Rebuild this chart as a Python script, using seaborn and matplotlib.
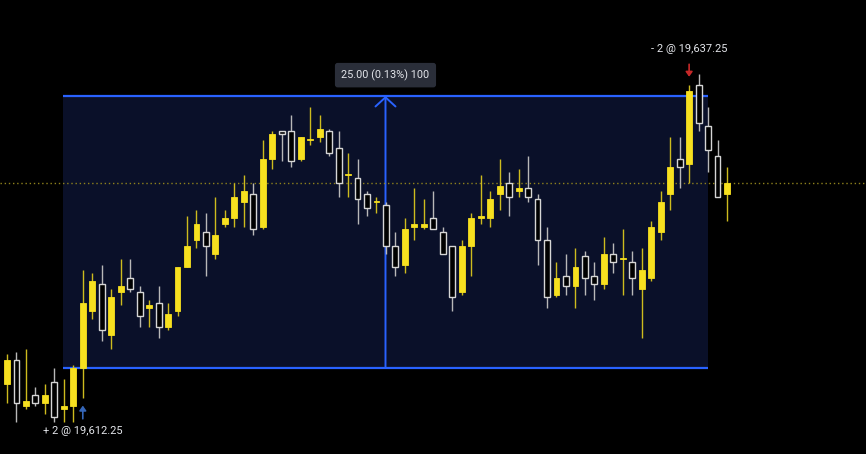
import matplotlib
matplotlib.use("Agg")
import matplotlib.pyplot as plt
from matplotlib.patches import Rectangle
import numpy as np
import seaborn as sns

# OHLC values (one list per field)
opens = [19610.75, 19613.0, 19608.75, 19609.75, 19609.0, 19611.0, 19608.5, 19608.75, 19612.25, 19617.5,
         19620.0, 19615.25, 19619.25, 19620.5, 19619.25, 19617.75, 19618.25, 19616.0, 19617.5, 19621.5,
         19624.0, 19624.75, 19622.75, 19625.5, 19626.0, 19627.5, 19628.25, 19625.25, 19631.5, 19634.0,
         19634.0, 19631.5, 19633.25, 19633.5, 19634.0, 19632.5, 19630.0, 19629.75, 19628.25, 19627.5,
         19627.25, 19623.5, 19621.75, 19625.25, 19625.25, 19626.0, 19624.75, 19623.5, 19619.25, 19623.5,
         19626.0, 19626.0, 19628.25, 19629.25, 19628.5, 19628.75, 19627.75, 19624.0, 19619.0, 19620.75,
         19619.75, 19622.5, 19620.75, 19620.0, 19622.75, 19622.25, 19622.0, 19619.5, 19620.5, 19624.75,
         19628.25, 19631.5, 19631.0, 19638.25, 19634.5, 19631.75, 19628.25]
highs = [19613.5, 19613.75, 19614.0, 19610.5, 19610.75, 19612.25, 19611.25, 19612.5, 19621.25, 19621.0,
         19621.75, 19619.5, 19622.25, 19622.25, 19619.75, 19618.5, 19619.75, 19618.25, 19621.5, 19626.25,
         19626.75, 19626.5, 19628.0, 19626.75, 19629.25, 19630.0, 19629.25, 19633.25, 19634.0, 19634.0,
         19635.5, 19633.5, 19636.25, 19635.5, 19634.25, 19634.0, 19632.0, 19631.5, 19628.5, 19628.0,
         19627.5, 19624.75, 19626.0, 19628.75, 19627.75, 19628.5, 19625.25, 19623.5, 19624.0, 19626.5,
         19630.0, 19628.5, 19631.5, 19630.25, 19630.5, 19631.75, 19628.25, 19625.25, 19622.0, 19622.75,
         19623.25, 19623.0, 19622.0, 19624.25, 19623.75, 19625.0, 19623.0, 19623.25, 19625.75, 19628.5,
         19633.5, 19633.5, 19638.25, 19639.25, 19636.25, 19633.25, 19630.75]
lows = [19609.0, 19607.25, 19608.5, 19608.75, 19608.0, 19607.25, 19607.25, 19607.25, 19609.5, 19616.75,
        19614.75, 19614.0, 19618.0, 19619.25, 19616.0, 19616.0, 19615.0, 19615.75, 19617.0, 19621.5,
        19623.25, 19620.75, 19622.25, 19625.25, 19625.25, 19625.25, 19624.5, 19625.0, 19630.5, 19631.25,
        19630.75, 19631.25, 19632.75, 19633.0, 19631.75, 19628.0, 19628.0, 19625.5, 19626.25, 19626.5,
        19622.75, 19620.75, 19621.0, 19624.0, 19625.0, 19625.0, 19622.75, 19617.5, 19619.0, 19620.75,
        19625.5, 19625.25, 19626.75, 19626.25, 19628.0, 19627.5, 19621.75, 19617.75, 19618.75, 19619.0,
        19617.75, 19619.0, 19618.5, 19619.5, 19621.0, 19619.0, 19619.0, 19615.0, 19620.25, 19624.0,
        19626.75, 19628.75, 19629.25, 19634.0, 19630.25, 19628.0, 19625.75]
closes = [19613.0, 19609.0, 19609.25, 19609.0, 19609.75, 19607.75, 19608.75, 19612.25, 19618.25, 19620.25,
          19615.75, 19618.75, 19619.75, 19619.5, 19617.0, 19618.0, 19616.0, 19617.25, 19621.5, 19623.5,
          19625.5, 19623.5, 19624.5, 19626.0, 19628.0, 19628.5, 19625.0, 19631.5, 19633.75, 19633.75,
          19631.25, 19633.5, 19633.25, 19634.25, 19632.0, 19629.25, 19630.0, 19627.75, 19627.0, 19627.5,
          19623.5, 19621.5, 19625.0, 19625.5, 19625.5, 19625.0, 19622.75, 19618.75, 19623.5, 19626.0,
          19626.25, 19627.75, 19629.0, 19628.0, 19628.75, 19628.0, 19624.0, 19618.75, 19620.5, 19619.75,
          19621.5, 19620.5, 19620.0, 19622.75, 19622.0, 19622.25, 19620.5, 19621.25, 19625.25, 19627.5,
          19630.75, 19630.75, 19637.75, 19634.75, 19632.25, 19628.0, 19629.25]

entry_bar, entry_price = 8, 19612.25
exit_bar, exit_price = 72, 19637.25
last_price = 19629.25
range_label = "25.00 (0.13%) 100"
buy_label = "+ 2 @ 19,612.25"
sell_label = "- 2 @ 19,637.25"

# colours
bg = "#000000"
bull = "#f7e01f"
bull_wick = "#cdbb1e"
bear_edge = "#d6d6d6"
bear_wick = "#b8b8b8"
box_fill = "#0a1029"
blue = "#2962ff"
label_col = "#e3e5ea"

sns.set_theme(style="dark", rc={"axes.facecolor": bg, "figure.facecolor": bg})
plt.rcParams["font.family"] = ["Roboto", "DejaVu Sans"]

o = np.array(opens)
h = np.array(highs)
l = np.array(lows)
c = np.array(closes)
x = np.arange(len(o))
up = c >= o

fig = plt.figure(figsize=(8.66, 4.54), dpi=100)
ax = fig.add_axes([0, 0, 1, 1])
ax.set_facecolor(bg)

# price range tool box
left, right = 5.9, 74.0
ax.add_patch(Rectangle((left, entry_price), right - left, exit_price - entry_price,
                       facecolor=box_fill, edgecolor="none", zorder=1))
ax.hlines([entry_price, exit_price], left, right, color=blue, lw=1.6, zorder=1.5)
mid = (left + right) / 2
ax.annotate("", xy=(mid, exit_price), xytext=(mid, entry_price),
            arrowprops=dict(arrowstyle="->,head_width=0.6,head_length=0.55", color=blue,
                            lw=1.4, shrinkA=0, shrinkB=0, mutation_scale=12), zorder=1.6)
ax.annotate(range_label, xy=(mid, exit_price), xytext=(0, 15), textcoords="offset points",
            ha="center", va="center", fontsize=7.8, color=label_col,
            bbox=dict(boxstyle="round,pad=0.6,rounding_size=0.25", fc="#2a2e39", ec="none"))

# last price dotted line
ax.axhline(last_price, color="#8f821c", lw=1, ls=(0, (1, 2)), zorder=1.7)

# wicks
ax.vlines(x[up], l[up], h[up], color=bull_wick, lw=1, zorder=2)
ax.vlines(x[~up], l[~up], h[~up], color=bear_wick, lw=1, zorder=2)

# bodies
w = 0.62
body = np.maximum(np.abs(c - o), 0.08)
ax.bar(x[up], body[up], bottom=np.minimum(o, c)[up], width=w,
       color=bull, edgecolor=bull, lw=0.6, zorder=3)
ax.bar(x[~up], body[~up], bottom=np.minimum(o, c)[~up], width=w,
       color=bg, edgecolor=bear_edge, lw=1, zorder=3)

# trade markers
ax.annotate("", xy=(entry_bar, lows[entry_bar]), xytext=(0, -15), textcoords="offset points",
            arrowprops=dict(arrowstyle="-|>,head_width=0.25,head_length=0.35", color="#3566b8",
                            lw=1.2, shrinkA=0, shrinkB=5.5, mutation_scale=8))
ax.annotate(buy_label, xy=(entry_bar, lows[entry_bar]), xytext=(0, -24), textcoords="offset points",
            ha="center", va="center", fontsize=8, color=label_col)
ax.annotate("", xy=(exit_bar, highs[exit_bar]), xytext=(0, 15), textcoords="offset points",
            arrowprops=dict(arrowstyle="-|>,head_width=0.25,head_length=0.35", color="#c62828",
                            lw=1.2, shrinkA=0, shrinkB=6, mutation_scale=8))
ax.annotate(sell_label, xy=(exit_bar, highs[exit_bar]), xytext=(0, 26), textcoords="offset points",
            ha="center", va="center", fontsize=8, color=label_col)

ax.set_xlim(-0.74, 90.67)
ax.set_ylim(19604.35, 19646.07)
ax.set_axis_off()

fig.savefig("out.png", dpi=100, facecolor=bg)
